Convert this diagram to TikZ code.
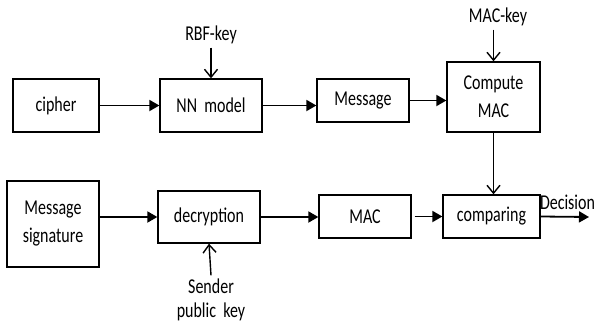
\documentclass[tikz,border=0pt]{standalone}
\usepackage{fontspec}
\setmainfont{Carlito}
\usetikzlibrary{arrows.meta}

% labels are set a little taller than wide
\newcommand\tall[1]{\scalebox{1}[1.32]{#1}}

\begin{document}
\begin{tikzpicture}[x=1pt, y=-1pt,
  font=\fontsize{16}{19}\selectfont,
  blk/.style={draw, line width=1.3pt, inner sep=2pt, align=center},
  flow/.style={line width=1.8pt, -{Triangle[length=10pt,width=11pt]}},
  keyin/.style={line width=1.4pt, -{Straight Barb[length=8pt,width=13pt]}}]

  \useasboundingbox (0,0) rectangle (596,324);

  % top row
  \node[blk, minimum width=86pt, minimum height=53pt] (c) at (56, 105.5) {\tall{cipher}};
  \node[blk, minimum width=102pt, minimum height=53pt] (nn) at (211, 105.5) {\tall{NN\ \ model}};
  \node[blk, minimum width=92pt, minimum height=43pt] (msg) at (363, 100.5) {\tall{Message}};
  \node[blk, minimum width=93pt, minimum height=70pt] (cm) at (493.5, 97) {\tall{Compute}\\[9pt]\tall{MAC}};
  \node (rk) at (211, 35) {\tall{RBF-key}};
  \node (mk) at (498, 17) {\tall{MAC-key}};

  % bottom row
  \node[blk, minimum width=92pt, minimum height=86pt] (sig) at (53, 224) {\tall{Message}\\[9pt]\tall{signature}};
  \node[blk, minimum width=102pt, minimum height=52pt] (dec) at (209, 217) {\tall{decryption}};
  \node[blk, minimum width=92pt, minimum height=43pt] (mac) at (365, 216.5) {\tall{MAC}};
  \node[blk, minimum width=97pt, minimum height=43pt] (cmp) at (491.5, 216.5) {\tall{comparing}};
  \node[align=center] (sk) at (211, 300) {\tall{Sender}\\[5pt]\tall{public\ \ key}};
  \coordinate (out) at (589, 217);
  \node[inner sep=0pt] (dl) at (567.5, 202) {\tall{Decision}};

  \draw [flow] (c.east) to (nn.west);
  \draw [flow] (nn.east) to (msg.west |- nn.east);
  \draw [flow] (msg.east) to (cm.west |- msg.east);
  \draw [keyin] (rk.south) to (nn.north);
  \draw [keyin] (mk.south -| cm.north) to (cm.north);
  \draw [keyin] (cm.south) to (cmp.north -| cm.south);

  \draw [flow] (sig.east |- dec.west) to (dec.west);
  \draw [flow] (dec.east) to (mac.west |- dec.east);
  \draw [flow, shorten <=3pt] (mac.east) to (cmp.west);
  \draw [keyin] (sk.north) to (dec.south);
  \draw [flow] (cmp.east) to (out);

\end{tikzpicture}
\end{document}
